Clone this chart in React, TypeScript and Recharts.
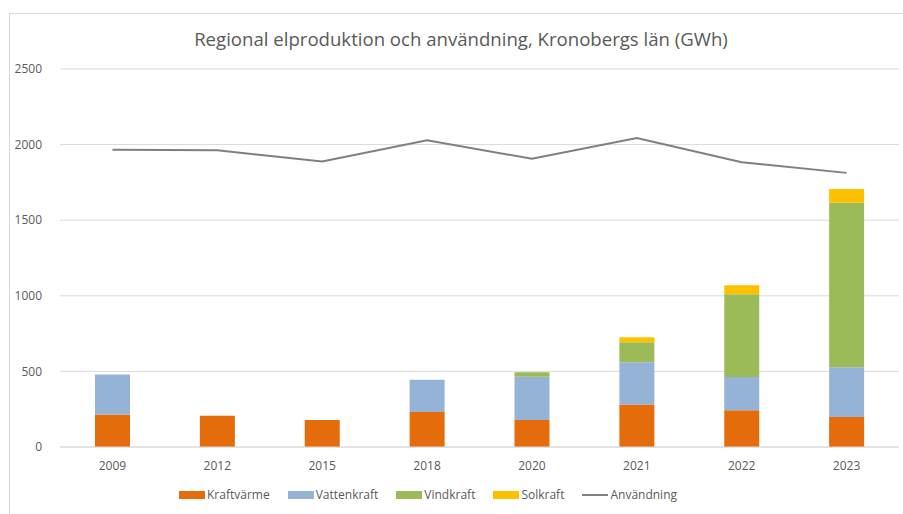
import { ComposedChart, Bar, Line, XAxis, YAxis, CartesianGrid, Legend } from 'recharts';

const years = ['2009', '2012', '2015', '2018', '2020', '2021', '2022', '2023'];
const kraftvarme = [215, 207, 178, 231, 179, 281, 243, 199];
const vattenkraft = [265, 0, 0, 214, 285, 280, 220, 329];
const vindkraft = [0, 0, 0, 0, 30, 132, 547, 1087];
const solkraft = [0, 0, 0, 0, 0, 33, 60, 92];
const anvandning = [1966, 1962, 1889, 2028, 1906, 2044, 1884, 1813];
const yTicks = [0, 500, 1000, 1500, 2000, 2500];

const series = [
    { key: 'Kraftvärme', color: '#e46c0a', kind: 'rect' },
    { key: 'Vattenkraft', color: '#95b3d7', kind: 'rect' },
    { key: 'Vindkraft', color: '#9bbb59', kind: 'rect' },
    { key: 'Solkraft', color: '#ffc000', kind: 'rect' },
    { key: 'Användning', color: '#7f7f7f', kind: 'line' },
];

const data = years.map((year, i) => ({
    year,
    Kraftvärme: kraftvarme[i],
    Vattenkraft: vattenkraft[i] || null,
    Vindkraft: vindkraft[i] || null,
    Solkraft: solkraft[i] || null,
    Användning: anvandning[i],
}));

const font = '"Open Sans", sans-serif';

// legend in the fixed Excel order, with wide flat swatches
const LegendContent = () => (
    <div style={{ display: 'flex', justifyContent: 'flex-start', gap: 18, paddingLeft: 179, paddingTop: 9, fontSize: 12, color: '#595959', fontFamily: font }}>
        {series.map(s => (
            <div key={s.key} style={{ display: 'flex', alignItems: 'center' }}>
                <span style={{
                    display: 'inline-block',
                    width: 26,
                    height: s.kind === 'rect' ? 8 : 2,
                    background: s.color,
                    marginRight: 2,
                }} />
                {s.key}
            </div>
        ))}
    </div>
);

export default function App() {
    return (
        <div style={{ position: 'absolute', left: 0, top: 0, width: 903, height: 514, background: '#fff', fontFamily: font, overflow: 'hidden' }}>
            <div style={{ position: 'absolute', left: 9, top: 13, width: 900, height: 510, borderLeft: '1px solid #d9d9d9', borderTop: '1px solid #d9d9d9' }} />
            <div style={{ position: 'absolute', left: 0, top: 26, width: 922, textAlign: 'center', fontSize: 18.6, color: '#595959' }}>
                Regional elproduktion och användning, Kronobergs län (GWh)
            </div>
            <ComposedChart
                width={903}
                height={514}
                data={data}
                margin={{ top: 69, right: 4, bottom: 2, left: 0 }}
                barSize={35}
            >
                <CartesianGrid vertical={false} stroke="#d9d9d9" strokeWidth={1} />
                <XAxis
                    dataKey="year"
                    tickLine={false}
                    axisLine={{ stroke: '#d9d9d9' }}
                    tick={{ fill: '#595959', fontSize: 12, fontFamily: font }}
                    tickMargin={8}
                    height={30}
                />
                <YAxis
                    domain={[0, 2500]}
                    ticks={yTicks}
                    axisLine={false}
                    tickLine={false}
                    width={60}
                    tick={{ fill: '#595959', fontSize: 12, fontFamily: font }}
                    tickMargin={12}
                />
                <Legend verticalAlign="bottom" height={35} content={<LegendContent />} />
                <Bar dataKey="Kraftvärme" stackId="a" fill="#e46c0a" isAnimationActive={false} />
                <Bar dataKey="Vattenkraft" stackId="a" fill="#95b3d7" isAnimationActive={false} />
                <Bar dataKey="Vindkraft" stackId="a" fill="#9bbb59" isAnimationActive={false} />
                <Bar dataKey="Solkraft" stackId="a" fill="#ffc000" isAnimationActive={false} />
                <Line
                    dataKey="Användning"
                    stroke="#7f7f7f"
                    strokeWidth={2}
                    dot={false}
                    isAnimationActive={false}
                />
            </ComposedChart>
        </div>
    );
}
